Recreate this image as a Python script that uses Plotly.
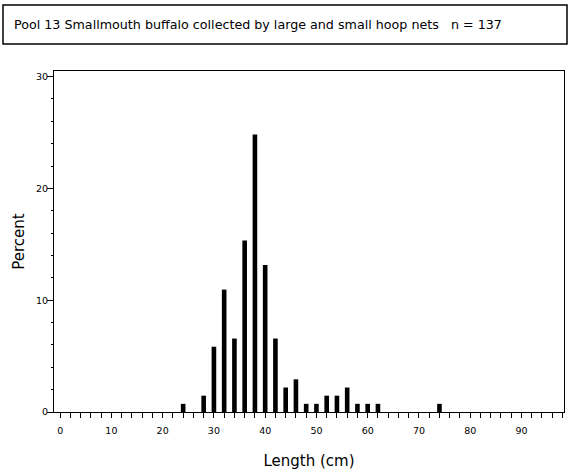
import plotly.graph_objects as go

# length class midpoints (cm) and percent of fish
length_cm = [24, 28, 30, 32, 34, 36, 38, 40, 42, 44, 46, 48, 50, 52, 54, 56, 58, 60, 62, 74]
percent = [0.73, 1.46, 5.84, 10.95, 6.57, 15.33, 24.82, 13.14, 6.57, 2.19,
           2.92, 0.73, 0.73, 1.46, 1.46, 2.19, 0.73, 0.73, 0.73, 0.73]

title_text = "Pool 13 Smallmouth buffalo collected by large and small hoop nets &nbsp; n = 137"

W, H = 570, 475
L, R, T, B = 54, 6, 71, 63
pw, ph = W - L - R, H - T - B


def px(x):
    return (x - L) / pw


def py(y):
    return (H - B - y) / ph


fig = go.Figure(go.Bar(x=length_cm, y=percent, width=0.9,
                       marker=dict(color="black", line=dict(width=0))))

font = "DejaVu Sans, Arial, sans-serif"

fig.update_layout(
    width=W, height=H,
    margin=dict(l=L, r=R, t=T, b=B, autoexpand=False),
    paper_bgcolor="white", plot_bgcolor="white",
    showlegend=False,
    font=dict(family=font, color="black"),
    xaxis=dict(range=[-1.2, 98.3], tickmode="linear", tick0=0, dtick=10,
               ticks="outside", ticklen=5, tickwidth=1, tickcolor="black",
               minor=dict(tick0=0, dtick=2, ticks="outside", ticklen=5, tickcolor="black"),
               showgrid=False, zeroline=False, showline=True, linecolor="black", linewidth=1,
               mirror=True, tickfont=dict(size=9.5), automargin=False, ticklabelstandoff=5,
               title=dict(text="Length (cm)", font=dict(size=15), standoff=20)),
    yaxis=dict(range=[0, 30.5], tickmode="linear", tick0=0, dtick=10,
               ticks="outside", ticklen=6, tickwidth=1, tickcolor="black",
               minor=dict(tick0=0, dtick=2, ticks="outside", ticklen=2, tickcolor="black"),
               showgrid=False, zeroline=False, showline=True, linecolor="black", linewidth=1,
               mirror=True, tickfont=dict(size=9.5), automargin=False, ticklabelstandoff=-3,
               title=dict(text="Percent", font=dict(size=15), standoff=7)),
)

# title box
fig.add_shape(type="rect", xref="paper", yref="paper",
              x0=px(3), x1=px(567), y0=py(44), y1=py(5),
              line=dict(color="black", width=1.5))
fig.add_annotation(xref="paper", yref="paper", x=px(12), y=py(25),
                   xanchor="left", yanchor="middle", showarrow=False,
                   text=title_text, font=dict(size=12.7, family=font))

# the page body has an 8px default margin; drop it so the figure fills the window
fig.write_html("out.html", config={"displayModeBar": False},
               post_script="document.body.style.margin='0';")
